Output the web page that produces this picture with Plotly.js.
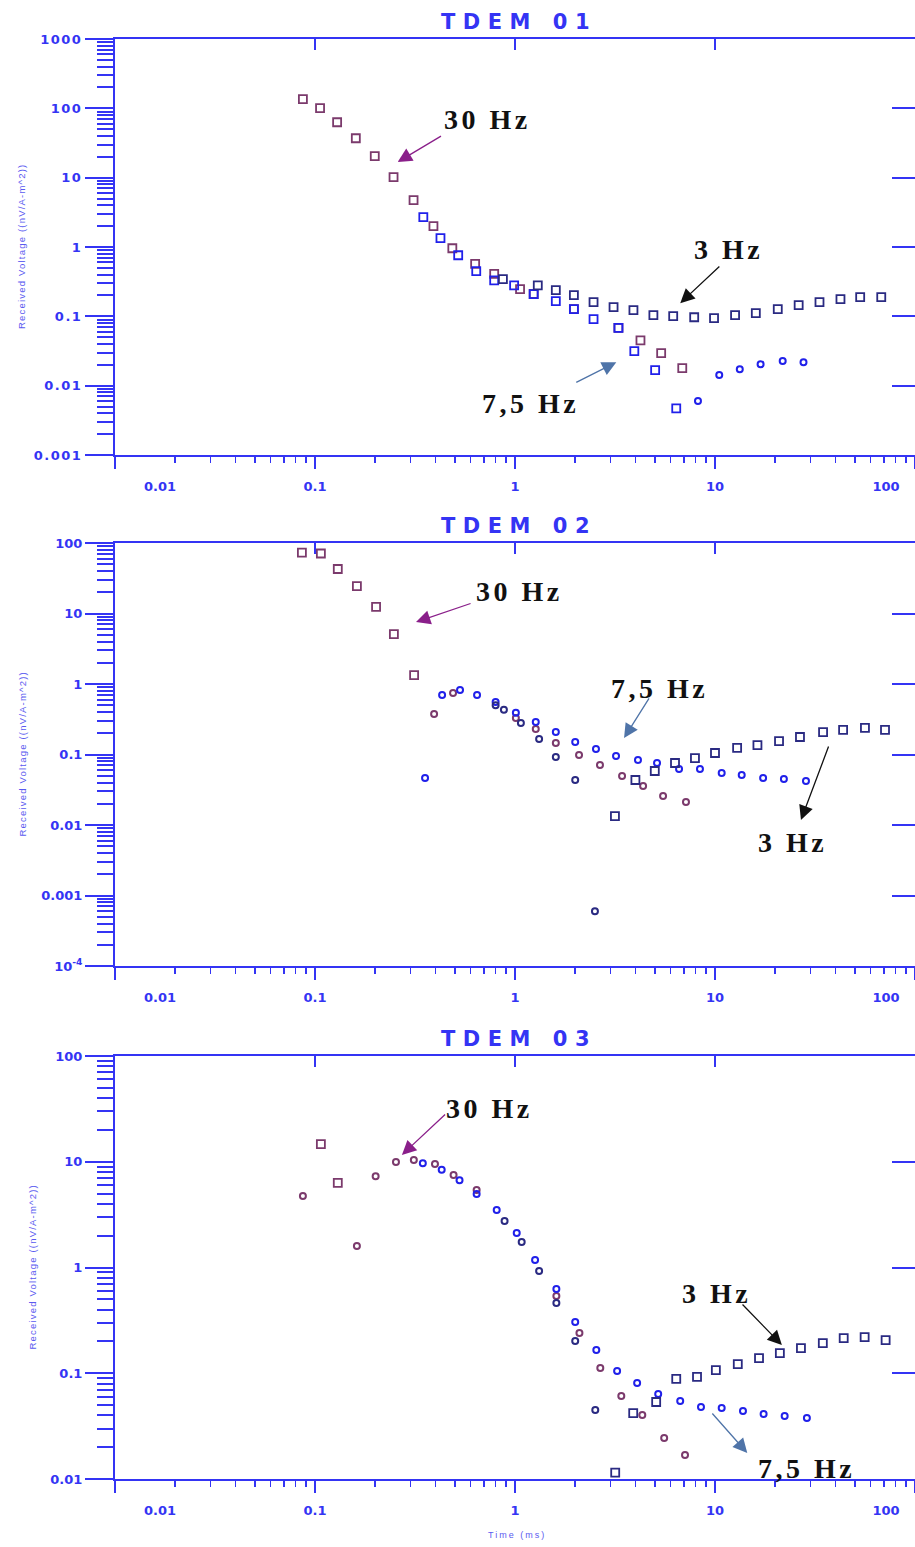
<!DOCTYPE html>
<html><head><meta charset="utf-8">
<script src="https://cdn.plot.ly/plotly-3.0.1.min.js"></script>
<style>
html,body{margin:0;padding:0;background:#fff;}
#chart{width:915px;height:1547px;}
.xtick text,.ytick text{letter-spacing:1.5px;}
</style></head><body><div id="chart"></div>
<script>
// ---------- TDEM 01 ----------
const t01_30_sq = [0.087,0.106,0.129,0.160,0.199,0.247,0.311,0.391,0.486,0.632,0.787,1.06,1.24,1.97,3.29,4.24,5.38,6.86];
const v01_30_sq = [136,101,63,37,20.5,10.2,4.75,2.0,0.96,0.57,0.41,0.247,0.21,0.127,0.068,0.045,0.0294,0.0179];
const t01_75_sq = [0.348,0.424,0.52,0.64,0.787,0.99,1.24,1.60,1.97,2.47,3.29,3.95,5.02,6.40];
const v01_75_sq = [2.70,1.34,0.76,0.45,0.33,0.28,0.209,0.166,0.127,0.091,0.068,0.0315,0.0168,0.0047];
const t01_75_el = [8.22,10.5,13.3,16.9,21.8,27.7];
const v01_75_el = [0.0060,0.0142,0.0173,0.0204,0.0226,0.0218];
const t01_3_sq = [0.87,1.30,1.60,1.97,2.47,3.11,3.91,4.92,6.18,7.87,9.89,12.6,16.0,20.6,26.2,33.3,42.4,53.2,67.8];
const v01_3_sq = [0.344,0.28,0.239,0.202,0.160,0.136,0.123,0.104,0.101,0.097,0.094,0.104,0.111,0.127,0.145,0.160,0.177,0.189,0.189];

// ---------- TDEM 02 ----------
const t02_30_sq = [0.086,0.107,0.130,0.162,0.202,0.248,0.313];
const v02_30_sq = [73,71,42.8,24.5,12.4,5.1,1.34];
const t02_30_el = [0.394,0.49,1.01,1.27,1.60,2.09,2.66,3.43,4.37,5.5,7.16];
const v02_30_el = [0.375,0.745,0.33,0.23,0.146,0.098,0.071,0.0495,0.0357,0.0258,0.0212];
const t02_75_el = [0.355,0.432,0.531,0.646,0.80,1.01,1.27,1.60,2.0,2.54,3.20,4.12,5.13,6.61,8.41,10.8,13.6,17.4,22.1,28.5];
const v02_75_el = [0.0464,0.70,0.82,0.70,0.556,0.39,0.29,0.208,0.150,0.120,0.095,0.0836,0.0757,0.0622,0.0622,0.0547,0.0512,0.0464,0.0449,0.042];
const t02_3_el = [0.80,0.88,1.07,1.32,1.60,2.0,2.51];
const v02_3_el = [0.50,0.43,0.28,0.166,0.092,0.0435,0.0006];
const t02_3_sq = [3.16,4.0,5.0,6.31,7.94,10.0,12.9,16.3,20.9,26.6,34.7,43.7,56.2,70.8];
const v02_3_sq = [0.0134,0.0435,0.0583,0.0757,0.089,0.105,0.124,0.136,0.155,0.177,0.208,0.223,0.238,0.223];

// ---------- TDEM 03 ----------
const t03_30_sq = [0.107,0.130];
const v03_30_sq = [14.7,6.3];
const t03_30_el = [0.087,0.162,0.201,0.254,0.312,0.398,0.493,0.643,1.61,2.10,2.67,3.40,4.33,5.57,7.08];
const v03_30_el = [4.74,1.60,7.3,9.96,10.4,9.5,7.5,5.4,0.537,0.240,0.112,0.061,0.0403,0.0244,0.0169];
const t03_75_el = [0.346,0.43,0.528,0.643,0.81,1.02,1.26,1.61,2.0,2.55,3.24,4.08,5.20,6.70,8.51,10.8,13.8,17.5,22.3,28.8];
const v03_75_el = [9.7,8.4,6.7,4.95,3.50,2.12,1.18,0.627,0.305,0.166,0.105,0.081,0.0637,0.0547,0.048,0.0469,0.044,0.0412,0.0394,0.0378];
const t03_3_el = [0.887,1.08,1.32,1.61,2.0,2.52];
const v03_3_el = [2.75,1.74,0.927,0.461,0.202,0.0449];
const t03_3_sq = [3.17,3.90,5.08,6.40,8.13,10.1,13.0,16.6,21.1,26.9,34.6,44.0,56.0,71.3];
const v03_3_sq = [0.0115,0.042,0.0535,0.0883,0.0923,0.107,0.122,0.139,0.155,0.173,0.193,0.215,0.220,0.206];

// ---------- labels ----------
const panelTitles = ['TDEM\u00a001','TDEM\u00a002','TDEM\u00a003'];
const xTickLabels = ['0.01','0.1','1','10','100'];
const yTicks01 = ['0.001','0.01','0.1','1','10','100','1000'];
const yTicks02 = ['10<sup>-4</sup>','0.001','0.01','0.1','1','10','100'];
const yTicks03 = ['0.01','0.1','1','10','100'];
const yTitle = 'Received Voltage ((nV/A-m^2))';
const xTitle = 'Time (ms)';
const seriesNames = ['30 Hz','7,5 Hz','3 Hz'];

// ---------- styling ----------
const W = 915, H = 1547;
const AX = '#3434f4';
const C30 = '#7b3a6c', C75 = '#2020ea', C3 = '#2a2a82';
const ARW30 = '#8a1f8a', ARW75 = '#4f74a8', ARW3 = '#111111';
const panels = [
  {top:39,  bot:455,  yr:[-3,3], yt:yTicks01, ytitleX:22},
  {top:543, bot:966,  yr:[-4,2], yt:yTicks02, ytitleX:22},
  {top:1056,bot:1479, yr:[-2,2], yt:yTicks03, ytitleX:32}
];
function dec(lo,hi){const a=[];for(let d=lo;d<=hi;d++)a.push(Math.pow(10,d));return a;}
function minors(lo,hi){const a=[];for(let d=lo;d<hi;d++)for(let k=2;k<=9;k++)a.push(k*Math.pow(10,d));return a;}
const L10 = Math.log10;
const ax = (c,n)=> n===1?c:c+n;

function sq(x,y,c,name,p){return {x:x,y:y,type:'scatter',mode:'markers',name:name,showlegend:false,
  xaxis:ax('x',p), yaxis:ax('y',p),
  marker:{symbol:'square-open',size:8,color:c,line:{width:1.8,color:c}}};}
function el(x,y,c,name,p){return {x:x,y:y,type:'scatter',mode:'markers',name:name,showlegend:false,
  xaxis:ax('x',p), yaxis:ax('y',p),
  marker:{symbol:'circle-open',size:6,color:c,line:{width:2,color:c}}};}

const data = [
  sq(t01_30_sq,v01_30_sq,C30,seriesNames[0],1),
  sq(t01_75_sq,v01_75_sq,C75,seriesNames[1],1),
  el(t01_75_el,v01_75_el,C75,seriesNames[1],1),
  sq(t01_3_sq,v01_3_sq,C3,seriesNames[2],1),

  sq(t02_30_sq,v02_30_sq,C30,seriesNames[0],2),
  el(t02_30_el,v02_30_el,C30,seriesNames[0],2),
  el(t02_75_el,v02_75_el,C75,seriesNames[1],2),
  el(t02_3_el,v02_3_el,C3,seriesNames[2],2),
  sq(t02_3_sq,v02_3_sq,C3,seriesNames[2],2),

  sq(t03_30_sq,v03_30_sq,C30,seriesNames[0],3),
  el(t03_30_el,v03_30_el,C30,seriesNames[0],3),
  el(t03_75_el,v03_75_el,C75,seriesNames[1],3),
  el(t03_3_el,v03_3_el,C3,seriesNames[2],3),
  sq(t03_3_sq,v03_3_sq,C3,seriesNames[2],3)
];
// empty helper traces so that the frame axes (top ticks, right ticks, tick-label axis) get drawn
for(let p=1;p<=3;p++){
  [['x'+(p+3),ax('y',p)],['x'+(p+6),ax('y',p)],[ax('x',p),'y'+(p+3)]].forEach(pr=>{
    data.push({x:[],y:[],type:'scatter',mode:'markers',xaxis:pr[0],yaxis:pr[1],showlegend:false,hoverinfo:'skip'});
  });
}

const layout = {
  width:W, height:H, margin:{l:0,r:0,t:0,b:0},
  paper_bgcolor:'#fff', plot_bgcolor:'#fff', showlegend:false,
  annotations:[]
};
const tickFont = {family:'DejaVu Sans', size:13, color:AX, weight:'bold'};

panels.forEach((P,i)=>{
  const p=i+1;
  const xk = ax('xaxis',p), yk = ax('yaxis',p);
  const xid = ax('x',p), yid = ax('y',p);
  const dom = [1-P.bot/H, 1-P.top/H];
  layout[xk] = {type:'log', range:[-2,2], domain:[115/W,1], anchor:yid,
    showline:true, linecolor:AX, linewidth:2, ticks:'outside', ticklen:12, tickwidth:2, tickcolor:AX,
    tickmode:'array', tickvals:dec(-2,2), showticklabels:false, showgrid:false, zeroline:false,
    minor:{ticks:'outside', ticklen:6, tickwidth:1.5, tickcolor:AX, tickmode:'array', tickvals:minors(-2,2), showgrid:false}};
  layout['xaxis'+(p+3)] = {type:'log', range:[-2,2], overlaying:xid, anchor:yid, side:'top',
    showline:true, linecolor:AX, linewidth:2, ticks:'inside', ticklen:11, tickwidth:2, tickcolor:AX,
    tickmode:'array', tickvals:[0.1,1,10], showticklabels:false, showgrid:false, zeroline:false};
  layout['xaxis'+(p+6)] = {type:'log', range:[-2,2], overlaying:xid, anchor:yid, side:'bottom',
    showline:false, ticks:'', tickmode:'array', tickvals:[0.0168,0.1,1,10,71.6], ticktext:xTickLabels,
    ticklabelstandoff:22, tickfont:tickFont, showgrid:false, zeroline:false};
  layout[yk] = {type:'log', range:P.yr, domain:dom, anchor:xid,
    showline:true, linecolor:AX, linewidth:2, ticks:'outside', ticklen:28, tickwidth:2, tickcolor:AX,
    tickmode:'array', tickvals:dec(P.yr[0],P.yr[1]), ticktext:P.yt, tickfont:tickFont,
    showgrid:false, zeroline:false,
    minor:{ticks:'outside', ticklen:16, tickwidth:2, tickcolor:AX, tickmode:'array', tickvals:minors(P.yr[0],P.yr[1]), showgrid:false}};
  layout['yaxis'+(p+3)] = {type:'log', range:P.yr, overlaying:yid, anchor:xid, side:'right',
    showline:false, ticks:'inside', ticklen:23, tickwidth:2, tickcolor:AX,
    tickmode:'array', tickvals:dec(P.yr[0]+1,P.yr[1]-1), showticklabels:false, showgrid:false, zeroline:false};

  // panel title
  layout.annotations.push({xref:'paper', yref:'paper', x:519/W, y:1-(P.top-17)/H, showarrow:false,
    text:'<span style="letter-spacing:7.5px">'+panelTitles[i]+'</span>',
    font:{family:'DejaVu Sans', size:21, color:AX, weight:'bold'}, xanchor:'center', yanchor:'middle'});
  // y title
  layout.annotations.push({xref:'paper', yref:'paper', x:P.ytitleX/W, y:1-((P.top+P.bot)/2)/H, showarrow:false,
    text:'<span style="letter-spacing:1.2px">'+yTitle+'</span>', textangle:-90,
    font:{family:'Liberation Sans', size:9.5, color:'#5a5af0'}, xanchor:'center', yanchor:'middle'});
});
layout.annotations.push({xref:'paper', yref:'paper', x:517/W, y:1-1535/H, showarrow:false,
  text:'<span style="letter-spacing:2px">'+xTitle+'</span>',
  font:{family:'Liberation Sans', size:9, color:'#5a5af0'}, xanchor:'center', yanchor:'middle'});

// series labels and arrows: [panel, label, textX, textY, tailX, tailY, tipX, tipY, color]
const labelSpecs = [
  [1, seriesNames[0], 0.726, 70,     0.434, 41,    0.259, 16.8,   ARW30],
  [1, seriesNames[2], 11.7,  0.93,   10.7,  0.548, 6.7,   0.155,  ARW3],
  [1, seriesNames[1], 1.20,  0.00558,1.99,  0.0109,3.21,  0.0218, ARW75],
  [2, seriesNames[0], 1.05,  20.8,   0.61,  14.1,  0.32,  7.56,   ARW30],
  [2, seriesNames[1], 5.25,  0.877,  4.73,  0.655, 3.51,  0.171,  ARW75],
  [2, seriesNames[2], 24.3,  0.00556,37.2,  0.136, 26.9,  0.0118, ARW3],
  [3, seriesNames[0], 0.746, 32.2,   0.455, 28.9,  0.272, 11.6,   ARW30],
  [3, seriesNames[2], 10.2,  0.574,  13.5,  0.461, 21.6,  0.185,  ARW3],
  [3, seriesNames[1], 28.8,  0.0127, 9.55,  0.043, 14.5,  0.0176, ARW75]
];
labelSpecs.forEach(s=>{
  const xid = ax('x',s[0]), yid = ax('y',s[0]);
  layout.annotations.push({xref:xid, yref:yid, x:L10(s[2]), y:L10(s[3]), showarrow:false,
    text:'<span style="letter-spacing:3.5px">'+s[1]+'</span>',
    font:{family:'Liberation Serif', size:28, color:'#111', weight:'bold'}, xanchor:'center', yanchor:'middle'});
  layout.annotations.push({xref:xid, yref:yid, axref:xid, ayref:yid, x:L10(s[6]), y:L10(s[7]),
    ax:L10(s[4]), ay:L10(s[5]), text:'', showarrow:true, arrowhead:2, arrowsize:2.2, arrowwidth:1.3,
    arrowcolor:s[8], standoff:0, startstandoff:0});
});

Plotly.newPlot('chart', data, layout, {staticPlot:true, displayModeBar:false});
</script></body></html>
